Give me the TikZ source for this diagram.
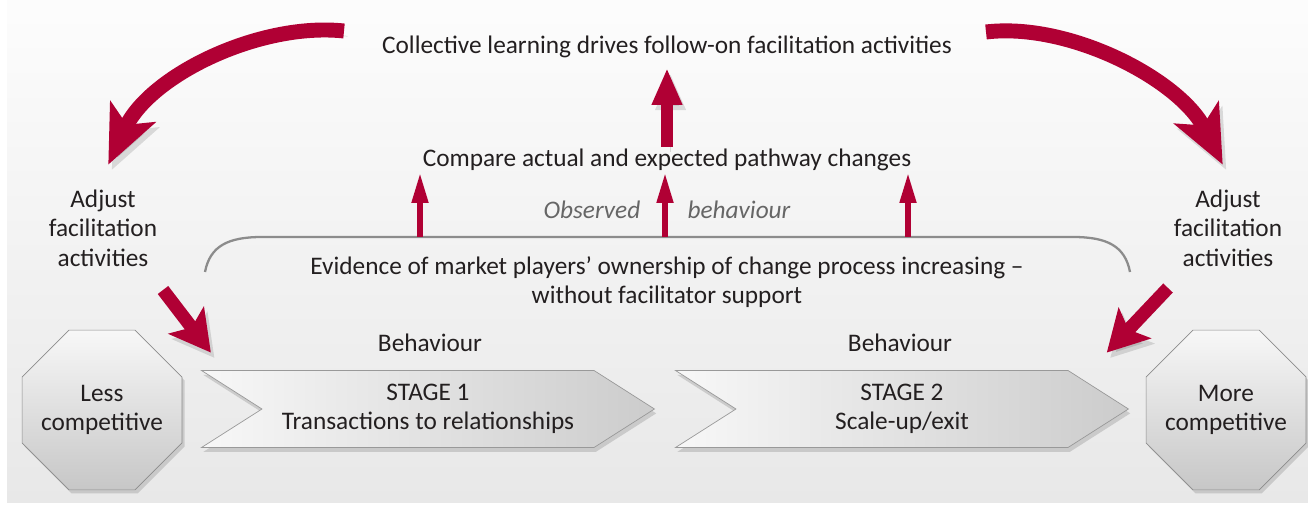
\documentclass[tikz,border=0pt]{standalone}
\usepackage{fontspec}
\setmainfont{Carlito}
\usetikzlibrary{arrows.meta,positioning,shapes.geometric,shapes.symbols,shadows,calc}
\definecolor{flowred}{RGB}{176,0,52}
\definecolor{txtgray}{RGB}{35,31,32}
\definecolor{linegray}{RGB}{140,140,140}
\tikzset{
  lbl/.style={font=\fontsize{14.4}{16.8}\selectfont, text=txtgray, align=center, inner sep=1pt},
  obs/.style={font=\fontsize{14.4}{16.8}\selectfont\itshape, text=black!60, inner sep=1pt},
  octo/.style={regular polygon, regular polygon sides=8, minimum size=3.46cm, inner sep=0pt,
    draw=black!45, top color=black!3, bottom color=black!22,
    drop shadow={opacity=0.3, shadow xshift=1.5pt, shadow yshift=-2pt}},
  stagebox/.style={signal, signal from=west, signal to=east, signal pointer angle=65,
    minimum width=9.06cm, minimum height=1.54cm, draw=black!40,
    left color=black!3, middle color=black!3, right color=black!20,
    drop shadow={opacity=0.3, shadow xshift=1pt, shadow yshift=-2.5pt}, lbl},
  redshadow/.style={preaction={draw=black, opacity=0.12, transform canvas={shift={(2pt,-3pt)}}}},
  curvearrow/.style={draw=flowred, line width=8.5pt, -{Stealth[length=33pt,width=28pt,inset=8pt]}, redshadow},
  bigup/.style={draw=flowred, line width=6.8pt, -{Triangle[length=21pt,width=16pt]}, redshadow},
  smallup/.style={draw=flowred, line width=3pt, -{Triangle[length=17pt,width=9pt]}},
  diagarrow/.style={draw=flowred, line width=7.5pt, -{Stealth[length=23pt,width=25pt,inset=5pt]}, redshadow},
}
\begin{document}
\begin{tikzpicture}[x=0.02cm,y=-0.02cm]
  \useasboundingbox (0,0) rectangle (1308,506);
  % background
  \fill[top color=black!1, bottom color=black!9] (7,0) rectangle (1308,502);

  %% texts
  \node[lbl] (coll) at (667,47) {Collective learning drives follow-on facilitation activities};
  \node[lbl] (cmp)  at (667,160) {Compare actual and expected pathway changes};
  \node[obs] (obsA) at (592,210) {Observed};
  \node[obs] (obsB) at (739,210) {behaviour};
  \node[lbl] (evid) at (667,282) {Evidence of market players’ ownership of change process increasing –\\without facilitator support};
  \node[lbl] (adjL) at (103,228) {Adjust\\facilitation\\activities};
  \node[lbl] (adjR) at (1228,228) {Adjust\\facilitation\\activities};
  \node[lbl] (beh1) at (430,343) {Behaviour};
  \node[lbl] (beh2) at (900,343) {Behaviour};

  %% stages and ends
  \node[octo, label={[lbl]center:Less\\competitive}] (less) at (102,410) {};
  \node[octo, label={[lbl]center:More\\competitive}] (more) at (1226,410) {};
  \node[stagebox] (st1) at (428,409) {STAGE 1\\Transactions to relationships};
  \node[stagebox] (st2) at (902,409) {STAGE 2\\Scale-up/exit};

  %% bracket round the evidence
  \draw[linegray, line width=1.3pt] (205,272) .. controls (210,246) and (228,237) .. (262,237)
    -- (1073,237) .. controls (1107,237) and (1125,246) .. (1130,272);
  \coordinate (brA) at (420,237);
  \coordinate (brB) at (665,237);
  \coordinate (brC) at (908,237);

  %% arrows
  \draw[smallup] (brA) -- (brA |- cmp.south);
  \draw[smallup] (brB) -- (brB |- cmp.south);
  \draw[smallup] (brC) -- (brC |- cmp.south);
  \draw[bigup] (cmp.north) -- ([yshift=-4.5pt]coll.south);

  \coordinate (cL) at (344,31);
  \coordinate (cR) at (986,32);
  \draw[curvearrow] (cL) .. controls (260,22) and (150,75) .. ([shift={(3pt,13pt)}]adjL.north);
  \draw[curvearrow] (cR) .. controls (1070,22) and (1180,80) .. ([shift={(-3pt,13pt)}]adjR.north);

  \coordinate (dL) at (163,290);
  \coordinate (dR) at (1168,288);
  \draw[diagarrow] (dL) -- ([shift={(6pt,10pt)}]st1.north west);
  \draw[diagarrow] (dR) -- ([shift={(22pt,10pt)}]st2.north east);
\end{tikzpicture}
\end{document}
